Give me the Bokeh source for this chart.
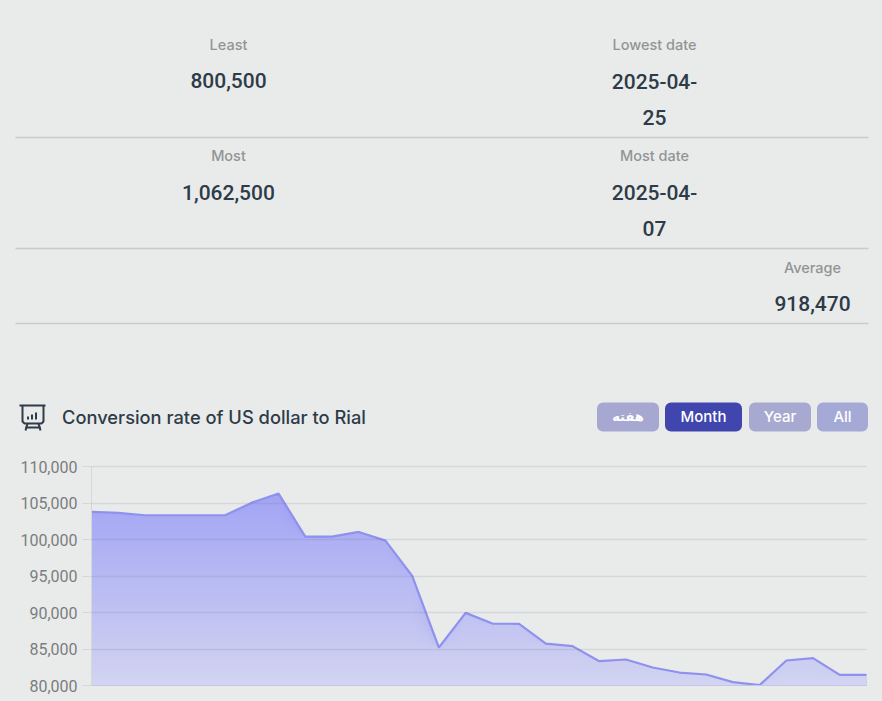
from bokeh.core.properties import value
from bokeh.embed import file_html
from bokeh.layouts import column
from bokeh.models import BoxAnnotation, ColumnDataSource, FixedTicker, NumeralTickFormatter
from bokeh.plotting import figure
from bokeh.resources import INLINE
import numpy as np

# chart values
days = list(range(30))
rate = [103820, 103690, 103370, 103370, 103370, 103370, 105100, 106340, 100440, 100440,
        101080, 99890, 95040, 85210, 89970, 88500, 88460, 85760, 85400, 83340,
        83570, 82470, 81780, 81510, 80460, 80050, 83430, 83750, 81460, 81460]
y_ticks = [80000, 85000, 90000, 95000, 100000, 105000, 110000]

# summary table
stat_labels = ["Least", "Lowest date", "Most", "Most date", "Average"]
stat_values = ["800,500", "2025-04-", "25", "1,062,500", "2025-04-", "07", "918,470"]
chart_title = "Conversion rate of US dollar to Rial"
button_labels = ["هفته", "Month", "Year", "All"]

BG = "#e9ebeb"
DARK = "#2e3b48"
FONT = "Roboto"
FONT_MED = "Roboto Medium"
FONT_UI_MED = "Inter Medium"

# top part, its data units are the pixels of the page
top = figure(width=882, height=450, x_range=(0, 882), y_range=(450, 0),
             output_backend="svg", toolbar_location=None, min_border=0, frame_align=False,
             background_fill_color=None, border_fill_color=None, outline_line_color=None)
top.axis.visible = False
top.grid.visible = False

top.segment([15, 15, 15], [137, 248, 323], [868, 868, 868], [137, 248, 323],
            line_color="#c9cbcb", line_width=1.5)

label_src = ColumnDataSource(dict(x=[228, 654, 228, 654, 812], y=[43.5, 43.5, 154.5, 154.5, 266.5], t=stat_labels))
top.text("x", "y", text="t", source=label_src, text_align="center", text_baseline="middle",
         text_font=value(FONT_UI_MED), text_font_size="14.5px", text_color="#929494")

value_src = ColumnDataSource(dict(x=[228, 654, 654, 228, 654, 654, 812],
                                  y=[79.5, 80.5, 116.5, 191.5, 191.5, 227.5, 302.5], t=stat_values))
top.text("x", "y", text="t", source=value_src, text_align="center", text_baseline="middle",
         text_font=value(FONT_MED), text_font_size="21px", text_color=DARK)

top.text([61.5], [416.5], text=[chart_title], text_align="left", text_baseline="middle",
         text_font=value(FONT_UI_MED), text_font_size="18.3px", text_color=DARK)

# buttons
button_left = [596.5, 664.5, 748.5, 816.5]
button_right = [658.5, 741.5, 810.5, 867.5]
button_fill = ["#a6a8d2", "#4146ae", "#a7a9d1", "#a5a9d6"]
for l, r, c in zip(button_left, button_right, button_fill):
    top.add_layout(BoxAnnotation(left=l, right=r, top=402, bottom=431, fill_color=c, fill_alpha=1,
                                 line_color=None, border_radius=6, level="underlay"))
centers = [(l + r) / 2 for l, r in zip(button_left, button_right)]
top.text(centers[1:], [416] * 3, text=button_labels[1:], text_align="center", text_baseline="middle",
         text_font=value(FONT_UI_MED), text_font_size="15px", text_color="white")
top.text(centers[:1], [416], text=button_labels[:1], text_align="center", text_baseline="middle",
         text_font=value("DejaVu Sans"), text_font_style="bold", text_font_size="13px", text_color="white")

# board icon next to the title
icon = dict(line_color=DARK, line_width=2)
top.line([19, 45], [405, 405], **icon)
top.line([22, 22, 24, 41, 43, 43], [405, 421, 423, 423, 421, 405], **icon)
top.segment([27.5, 31.5, 35.5], [419, 419, 419], [27.5, 31.5, 35.5], [416, 414, 412], line_color=DARK, line_width=2)
top.segment([27, 38, 25], [423, 423, 427], [25, 40, 40], [430, 430, 427], **icon)

# chart
p = figure(width=882, height=251, x_range=(0, 29), y_range=(80000, 110060),
           output_backend="svg", toolbar_location=None, frame_align=False,
           min_border_left=91, min_border_right=16, min_border_top=16, min_border_bottom=16,
           background_fill_color=None, border_fill_color=None, outline_line_color=None)

# vertical gradient: stack of areas, darkest and tallest first
levels = np.linspace(max(rate), 80000, 60)
c_top = np.array([163, 165, 245])
c_bottom = np.array([210, 212, 241])
for i, hi in enumerate(levels[:-1]):
    c = c_top + (c_bottom - c_top) * i / (len(levels) - 2)
    p.varea(days, [80000] * len(days), np.minimum(rate, hi), fill_color="#%02x%02x%02x" % tuple(int(v) for v in c))
p.line(days, rate, line_color="#8f91ee", line_width=2.2)

p.yaxis.ticker = FixedTicker(ticks=y_ticks)
p.yaxis.formatter = NumeralTickFormatter(format="0,0")
p.yaxis.major_label_text_font = FONT
p.yaxis.major_label_text_font_size = "16px"
p.yaxis.major_label_text_color = "#7b7d7e"
p.yaxis.major_label_standoff = 5
p.yaxis.major_tick_in = 0
p.yaxis.major_tick_out = 9
p.yaxis.major_tick_line_color = "#d6d8d8"
p.yaxis.minor_tick_line_color = None
p.yaxis.axis_line_color = "#d6d8d8"

p.xaxis.ticker = FixedTicker(ticks=[])
p.xaxis.major_label_text_font_size = "0px"
p.xaxis.major_label_standoff = 0
p.xaxis.major_tick_out = 0
p.xaxis.minor_tick_line_color = None
p.xaxis.axis_line_color = "#c5c6e8"

p.xgrid.visible = False
p.ygrid.ticker = FixedTicker(ticks=y_ticks)
p.ygrid.grid_line_color = "#6f7090"
p.ygrid.grid_line_alpha = 0.16
p.ygrid.grid_line_width = 1.5
p.ygrid.level = "annotation"

page = column(top, p, spacing=0, stylesheets=[":host { background: %s; }" % BG])

open("out.html", "w").write(file_html(page, INLINE))
